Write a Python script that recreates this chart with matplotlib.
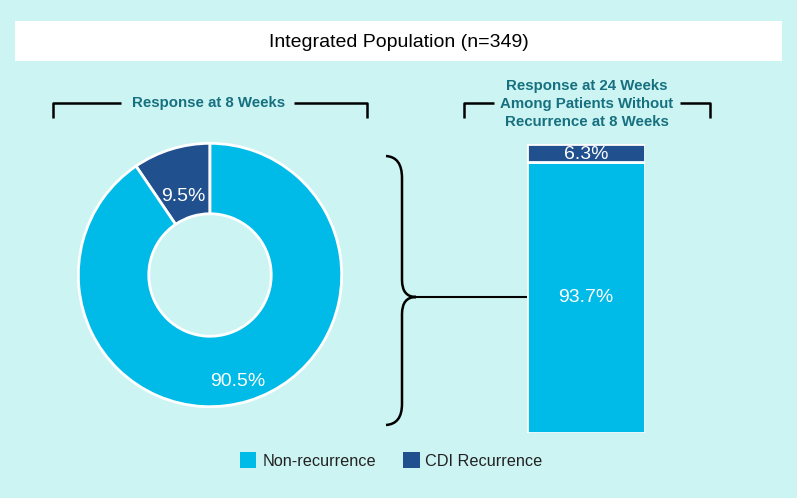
import matplotlib
matplotlib.use("Agg")
import matplotlib.pyplot as plt
from matplotlib.path import Path
from matplotlib.patches import PathPatch, Rectangle

# ---- data ----
title = "Integrated Population (n=349)"
categories = ["Non-recurrence", "CDI Recurrence"]
week8_values = [90.5, 9.5]
week24_values = [93.7, 6.3]
donut_title = "Response at 8 Weeks"
bar_title = "Response at 24 Weeks\nAmong Patients Without\nRecurrence at 8 Weeks"

light = "#00BBE7"
dark = "#21508F"
bg = "#CCF4F3"
teal = "#16707F"

W, H = 797, 498
fig = plt.figure(figsize=(W / 100, H / 100), dpi=100)
fig.patch.set_facecolor(bg)

# donut
cx, cy, r = 210, 275, 133
pax = fig.add_axes([(cx - r) / W, (H - cy - r) / H, 2 * r / W, 2 * r / H])
wedges, _ = pax.pie([week8_values[1], week8_values[0]], colors=[dark, light],
                    startangle=90, counterclock=True, radius=1,
                    wedgeprops=dict(width=0.535, edgecolor="white", linewidth=2))
pax.set_xlim(-1.01, 1.01)
pax.set_ylim(-1.01, 1.01)
pax.set_aspect("equal")
pax.axis("off")

# stacked bar
bx0, bx1, by0, by1 = 527, 645, 144, 433
bax = fig.add_axes([bx0 / W, (H - by1) / H, (bx1 - bx0) / W, (by1 - by0) / H])
bax.bar([0], [week24_values[0]], width=1, color=light, edgecolor="white", linewidth=2)
bax.bar([0], [week24_values[1]], bottom=[week24_values[0]], width=1, color=dark,
        edgecolor="white", linewidth=2)
bax.set_xlim(-0.5, 0.5)
bax.set_ylim(0, 100)
bax.axis("off")
bax.text(0, week24_values[0] / 2 + 0.2, f"{week24_values[0]}%", ha="center", va="center",
         fontsize=14, color="white", family="Liberation Sans")
bax.text(0, week24_values[0] + week24_values[1] / 2 - 0.4, f"{week24_values[1]}%", ha="center",
         va="center", fontsize=14, color="white", family="Liberation Sans")

# overlay axes in pixel coordinates (on top)
ov = fig.add_axes([0, 0, 1, 1])
ov.set_xlim(0, W)
ov.set_ylim(H, 0)
ov.axis("off")
ov.set_zorder(10)
ov.patch.set_alpha(0)

# title box
ov.add_patch(Rectangle((15, 21), 767, 40, facecolor="white", edgecolor="none"))
ov.text(W / 2, 42, title, ha="center", va="center", fontsize=14,
        family=["Liberation Sans Narrow", "Liberation Sans"], color="black")

# bracket above donut
ov.plot([53, 53, 121], [118, 103, 103], color="black", lw=1.8, solid_capstyle="butt")
ov.plot([294, 367, 367], [103, 103, 118], color="black", lw=1.8, solid_capstyle="butt")
ov.text(209, 103, donut_title, ha="center", va="center", fontsize=10.8,
        fontweight="bold", color=teal, family="Liberation Sans")

# bracket above bar
ov.plot([464, 464, 494], [118, 103, 103], color="black", lw=1.8, solid_capstyle="butt")
ov.plot([680, 710, 710], [103, 103, 118], color="black", lw=1.8, solid_capstyle="butt")
ov.text(587, 104, bar_title, ha="center", va="center", fontsize=10.8,
        fontweight="bold", color=teal, family="Liberation Sans", linespacing=1.38)

# curly brace
verts = [(386, 156), (402, 157), (402, 178),
         (402, 280), (402, 297), (416, 297),
         (402, 297), (402, 314),
         (402, 404), (402, 424), (386, 425)]
codes = [Path.MOVETO, Path.CURVE3, Path.CURVE3,
         Path.LINETO, Path.CURVE3, Path.CURVE3,
         Path.CURVE3, Path.CURVE3,
         Path.LINETO, Path.CURVE3, Path.CURVE3]
ov.add_patch(PathPatch(Path(verts, codes), facecolor="none", edgecolor="black", lw=1.8))
ov.plot([416, 526], [297, 297], color="black", lw=1.5)

# donut labels
ov.text(183, 196, f"{week8_values[1]}%", ha="center", va="center", fontsize=14,
        color="white", family="Liberation Sans")
ov.text(238, 381, f"{week8_values[0]}%", ha="center", va="center", fontsize=14,
        color="white", family="Liberation Sans")

# legend
ov.add_patch(Rectangle((240, 452), 16, 16, facecolor=light, edgecolor="none"))
ov.text(263, 461, categories[0], ha="left", va="center", fontsize=11.7,
        color="#222222", family="Liberation Sans")
ov.add_patch(Rectangle((403, 452), 17, 16, facecolor=dark, edgecolor="none"))
ov.text(425, 461, categories[1], ha="left", va="center", fontsize=11.7,
        color="#222222", family="Liberation Sans")

fig.savefig("out.png", dpi=100, facecolor=bg)
